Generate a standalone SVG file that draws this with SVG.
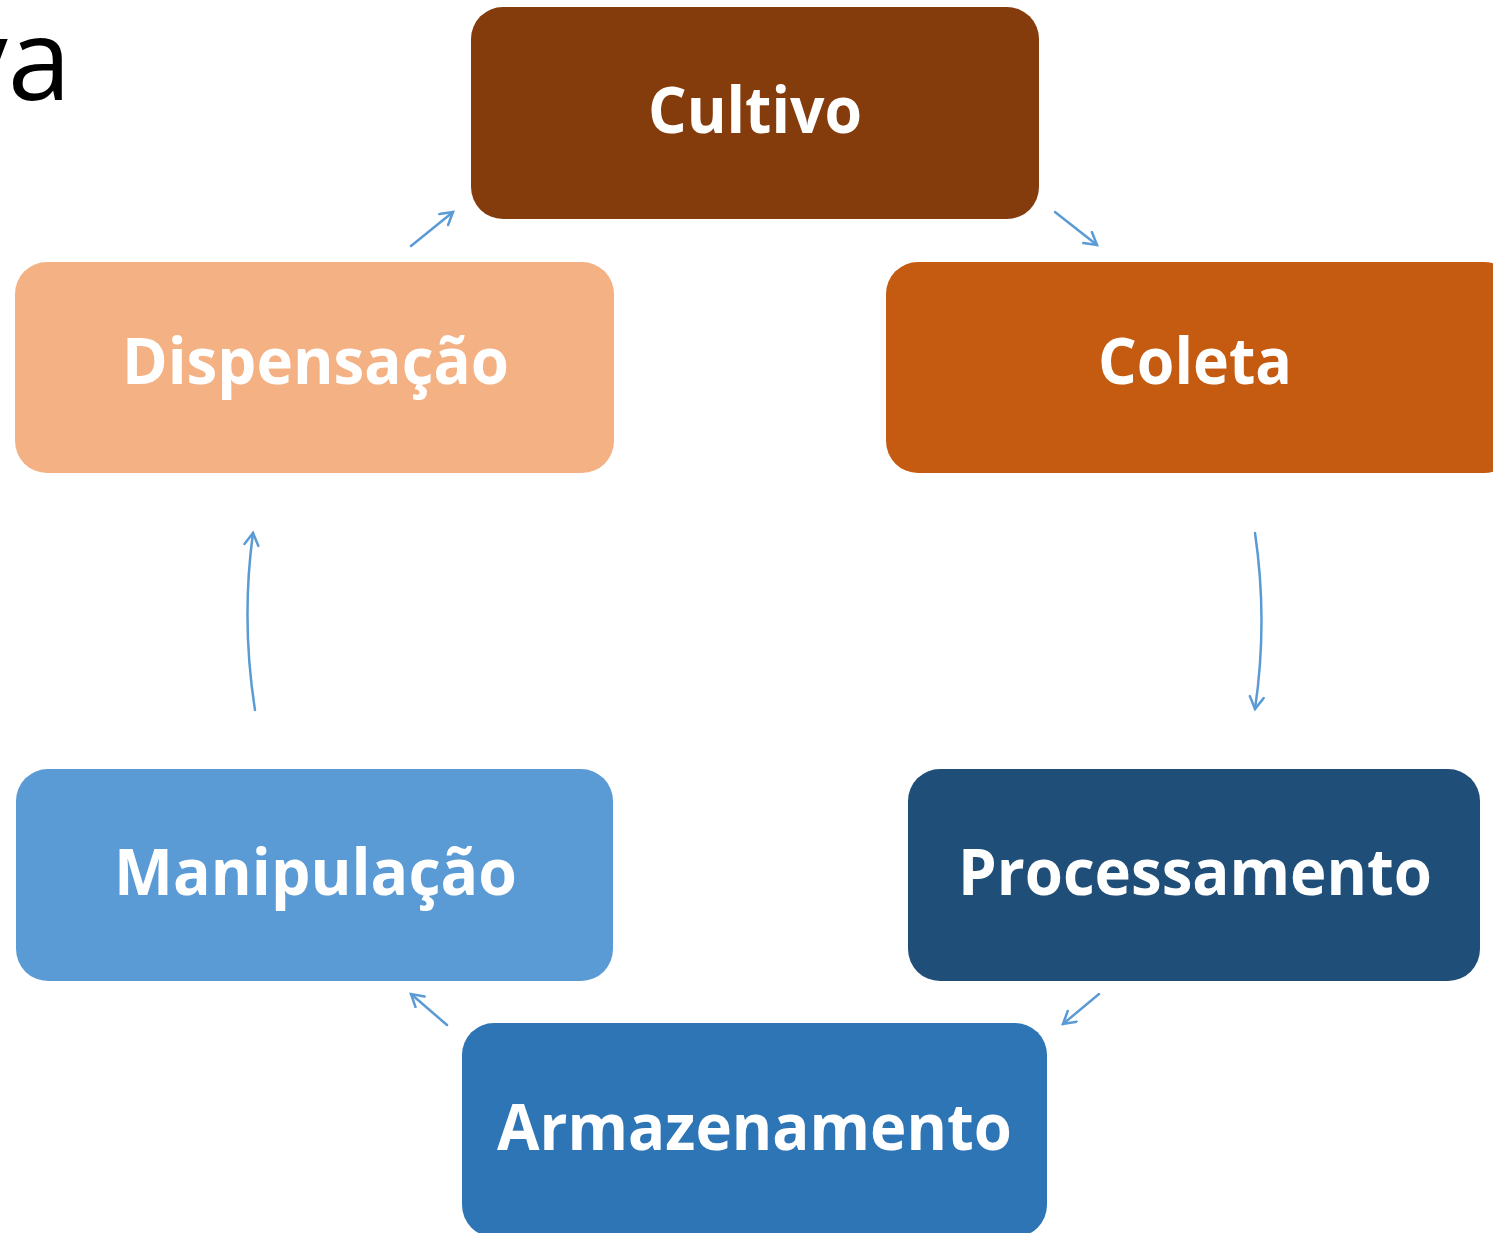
<svg xmlns="http://www.w3.org/2000/svg" width="1493" height="1233" viewBox="0 0 1493 1233">
<style>
.lbl{font-family:"Open Sans","Liberation Sans",sans-serif;font-weight:bold;font-size:64px;fill:#FFFFFF;text-anchor:middle}
.con{fill:none;stroke:#5B9BD5;stroke-width:2.5;stroke-linecap:round}
</style>
<defs>
<marker id="ah" markerWidth="20" markerHeight="20" refX="14" refY="8" orient="auto" markerUnits="userSpaceOnUse">
<path d="M2,1 L14,8 L2,15" fill="none" stroke="#5B9BD5" stroke-width="2.5" stroke-linecap="round" stroke-linejoin="miter"/>
</marker>
</defs>
<rect width="1493" height="1233" fill="#FFFFFF"/>
<text x="71" y="100" text-anchor="end" style="font-family:'Open Sans','Liberation Sans',sans-serif;font-size:114px;fill:#000000">va</text>
<g id="cultivo">
<rect x="471" y="7" width="568" height="212" rx="32" fill="#843C0C"/>
<text class="lbl" x="755" y="133" textLength="214" lengthAdjust="spacingAndGlyphs">Cultivo</text>
</g>
<g id="coleta">
<rect x="886" y="262" width="630" height="211" rx="32" fill="#C55A11"/>
<text class="lbl" x="1195" y="384" textLength="194" lengthAdjust="spacingAndGlyphs">Coleta</text>
</g>
<g id="processamento">
<rect x="908" y="769" width="572" height="212" rx="32" fill="#1F4E79"/>
<text class="lbl" x="1195" y="895" textLength="474" lengthAdjust="spacingAndGlyphs">Processamento</text>
</g>
<g id="armazenamento">
<rect x="462" y="1023" width="585" height="214" rx="32" fill="#2E75B6"/>
<text class="lbl" x="754.5" y="1150" textLength="515" lengthAdjust="spacingAndGlyphs">Armazenamento</text>
</g>
<g id="manipulacao">
<rect x="16" y="769" width="597" height="212" rx="32" fill="#5B9BD5"/>
<text class="lbl" x="315.5" y="895" textLength="403" lengthAdjust="spacingAndGlyphs">Manipulação</text>
</g>
<g id="dispensacao">
<rect x="15" y="262" width="599" height="211" rx="32" fill="#F4B183"/>
<text class="lbl" x="315.5" y="384" textLength="387" lengthAdjust="spacingAndGlyphs">Dispensação</text>
</g>
<g id="connectors">
<path class="con" d="M1055,212 L1097,245" marker-end="url(#ah)"/>
<path class="con" d="M1255,533 Q1268,621 1255,709" marker-end="url(#ah)"/>
<path class="con" d="M1099,994 L1063,1024" marker-end="url(#ah)"/>
<path class="con" d="M447,1025 L411,994" marker-end="url(#ah)"/>
<path class="con" d="M255,710 Q241,621 253,533" marker-end="url(#ah)"/>
<path class="con" d="M411,246 L453,212" marker-end="url(#ah)"/>
</g>
</svg>
